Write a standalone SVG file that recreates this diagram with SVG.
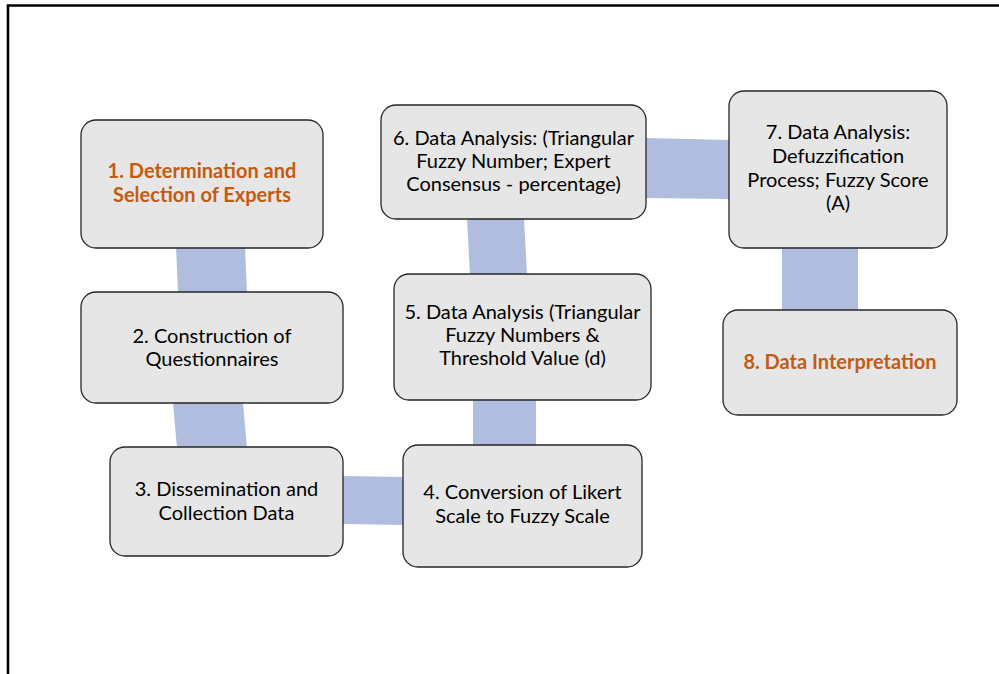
<svg xmlns="http://www.w3.org/2000/svg" width="999" height="674" viewBox="0 0 999 674">
  <style>
    .box { fill: #e6e6e6; stroke: #262626; stroke-width: 1.3; }
    .band { fill: #b0bddf; }
    .lbl { font-family: Lato, "Liberation Sans", sans-serif; font-size: 20px; fill: #000; text-anchor: middle; }
    .hl { fill: #c55a11; font-weight: bold; }
  </style>
  <rect width="999" height="674" fill="#fff"/>
  <!-- frame -->
  <path d="M8,674 V5.5 H999" fill="none" stroke="#000" stroke-width="2.6"/>

  <!-- connectors -->
  <g id="connectors">
    <polygon class="band" points="176,247 245,247 247,293 178,293"/>
    <polygon class="band" points="173,403 243,403 247,448 177,448"/>
    <polygon class="band" points="342,476 404,477 404,525 342,524"/>
    <polygon class="band" points="473,400 536,400 536,446 473,446"/>
    <polygon class="band" points="467,219 524,219 527,275 470,275"/>
    <polygon class="band" points="646,138 730,140 730,199 646,198"/>
    <polygon class="band" points="782,247 858,247 858,311 782,311"/>
  </g>

  <g id="node1">
    <rect class="box" x="81" y="120" width="242" height="128" rx="15"/>
    <text class="lbl hl" x="202" y="178">1. Determination and</text>
    <text class="lbl hl" x="202" y="202">Selection of Experts</text>
  </g>
  <g id="node2">
    <rect class="box" x="81" y="292" width="262" height="111" rx="15"/>
    <text class="lbl" x="212" y="343">2. Construction of</text>
    <text class="lbl" x="212" y="366">Questionnaires</text>
  </g>
  <g id="node3">
    <rect class="box" x="110" y="447" width="233" height="109" rx="15"/>
    <text class="lbl" x="226.5" y="496">3. Dissemination and</text>
    <text class="lbl" x="226.5" y="520">Collection Data</text>
  </g>
  <g id="node4">
    <rect class="box" x="403" y="445" width="239" height="122" rx="15"/>
    <text class="lbl" x="522.5" y="499">4. Conversion of Likert</text>
    <text class="lbl" x="522.5" y="523">Scale to Fuzzy Scale</text>
  </g>
  <g id="node5">
    <rect class="box" x="394" y="274" width="257" height="126" rx="15"/>
    <text class="lbl" x="522.5" y="319">5. Data Analysis (Triangular</text>
    <text class="lbl" x="522.5" y="342">Fuzzy Numbers &amp;</text>
    <text class="lbl" x="522.5" y="365">Threshold Value (d)</text>
  </g>
  <g id="node6">
    <rect class="box" x="381" y="105" width="265" height="114" rx="15"/>
    <text class="lbl" x="513.5" y="145">6. Data Analysis: (Triangular</text>
    <text class="lbl" x="513.5" y="168">Fuzzy Number; Expert</text>
    <text class="lbl" x="513.5" y="191">Consensus - percentage)</text>
  </g>
  <g id="node7">
    <rect class="box" x="729" y="91" width="218" height="157" rx="15"/>
    <text class="lbl" x="838" y="139">7. Data Analysis:</text>
    <text class="lbl" x="838" y="163">Defuzzification</text>
    <text class="lbl" x="838" y="187">Process; Fuzzy Score</text>
    <text class="lbl" x="838" y="210">(A)</text>
  </g>
  <g id="node8">
    <rect class="box" x="723" y="310" width="234" height="105" rx="15"/>
    <text class="lbl hl" x="840" y="369">8. Data Interpretation</text>
  </g>
</svg>
